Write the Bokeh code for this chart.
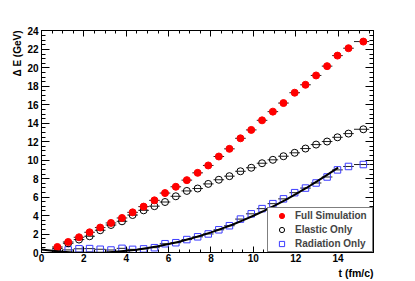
import numpy as np
from bokeh.plotting import figure
from bokeh.models import (Range1d, SingleIntervalTicker, LinearAxis, Title,
                          CustomJSTickFormatter)
from bokeh.embed import file_html
from bokeh.resources import INLINE

# time bins (fm/c)
t = [0.75, 1.26, 1.77, 2.27, 2.77, 3.28, 3.80, 4.30, 4.82, 5.33, 5.83, 6.34,
     6.86, 7.37, 7.87, 8.37, 8.87, 9.39, 9.90, 10.41, 10.92, 11.42, 11.95,
     12.46, 12.96, 13.48, 13.97, 14.49, 15.19]
t_err_lo = [0.25] * 28 + [0.44]
t_err_hi = [0.25] * 28 + [0.28]

full_sim = [0.60, 1.14, 1.65, 2.19, 2.70, 3.20, 3.74, 4.35, 4.97, 5.65, 6.44,
            7.12, 7.84, 8.63, 9.43, 10.40, 11.23, 12.37, 13.28, 14.32, 15.26,
            16.19, 17.31, 18.17, 19.18, 20.19, 21.33, 22.13, 22.85]
elastic = [0.45, 1.00, 1.40, 1.76, 2.41, 2.98, 3.38, 4.06, 4.57, 5.02, 5.47,
           6.09, 6.67, 6.93, 7.43, 7.88, 8.27, 8.80, 9.18, 9.67, 10.04, 10.43,
           10.80, 11.26, 11.69, 12.02, 12.48, 12.88, 13.35]
radiation = [0.05, 0.28, 0.40, 0.42, 0.35, 0.27, 0.45, 0.34, 0.39, 0.52, 0.95,
             1.06, 1.40, 1.70, 2.01, 2.46, 2.90, 3.62, 4.19, 4.75, 5.29, 5.81,
             6.48, 6.98, 7.53, 8.18, 8.95, 9.32, 9.53]

# fit curve
fit_t = [0.0, 0.5, 1.0, 1.5, 2.0, 2.5, 3.0, 3.5, 4.0, 4.5, 5.0, 5.5, 6.0, 6.5,
         7.0, 7.5, 8.0, 8.5, 9.0, 9.5, 10.0, 10.5, 11.0, 11.5, 12.0, 12.5,
         13.0, 13.5, 14.0]
fit_e = [0.32, 0.19, 0.08, 0.01, -0.02, -0.02, 0.01, 0.07, 0.18, 0.31, 0.48,
         0.67, 0.91, 1.17, 1.48, 1.81, 2.18, 2.58, 3.01, 3.48, 3.98, 4.51,
         5.08, 5.68, 6.32, 6.99, 7.70, 8.43, 9.20]

x_ticks_interval = 2
y_ticks_interval = 2

FONT = "Liberation Sans"

p = figure(width=414, height=280, x_range=Range1d(0, 15.67),
           y_range=Range1d(0, 24.05), output_backend="svg",
           toolbar_location=None, min_border_left=41, min_border_right=41,
           min_border_top=30, min_border_bottom=28)
p.xgrid.visible = False
p.ygrid.visible = False
p.outline_line_color = "black"
p.outline_line_width = 1
p.background_fill_color = "white"
p.border_fill_color = "white"

def style_axis(ax, major, minor, interval, labels=True, standoff=3):
    ax.ticker = SingleIntervalTicker(interval=interval, num_minor_ticks=4)
    ax.major_tick_in = major
    ax.major_tick_out = 0
    ax.minor_tick_in = minor
    ax.minor_tick_out = 0
    ax.axis_line_color = "black"
    ax.major_tick_line_color = "black"
    ax.minor_tick_line_color = "black"
    if labels:
        ax.major_label_text_font = FONT
        ax.major_label_text_font_style = "bold"
        ax.major_label_text_font_size = "10px"
        ax.major_label_text_color = "black"
        ax.major_label_standoff = standoff
    else:
        ax.formatter = CustomJSTickFormatter(code="return ''")
        ax.major_label_standoff = 0

style_axis(p.xaxis[0], 6, 3, x_ticks_interval, standoff=1)
style_axis(p.yaxis[0], 8, 4, y_ticks_interval, standoff=3)
top = LinearAxis()
style_axis(top, 6, 3, x_ticks_interval, labels=False)
p.add_layout(top, "above")
right = LinearAxis()
style_axis(right, 8, 4, y_ticks_interval, labels=False)
p.add_layout(right, "right")

tt = np.array(t)
lo = tt - np.array(t_err_lo)
hi = tt + np.array(t_err_hi)

for ys in (full_sim, elastic, radiation):
    p.segment(x0=lo, x1=hi, y0=ys, y1=ys, line_color="#222222", line_width=1)

p.scatter(t, radiation, marker="square", size=6.5, fill_color="white",
          fill_alpha=0.0, line_color="#3c3cff", line_width=1,
          legend_label="Radiation Only")
p.scatter(t, elastic, marker="circle", size=7, fill_color="white",
          fill_alpha=0.0, line_color="black", line_width=1,
          legend_label="Elastic Only")
p.scatter(t, full_sim, marker="circle", size=7, fill_color="#ff0000",
          line_color="#ff0000", legend_label="Full Simulation")
p.line(fit_t, fit_e, line_color="black", line_width=2)

leg = p.legend[0]
leg.items = [leg.items[2], leg.items[1], leg.items[0]]
leg.location = "bottom_right"
leg.margin = 0
leg.padding = 1
leg.spacing = 1
leg.glyph_width = 25
leg.glyph_height = 13
leg.label_height = 13
leg.label_width = 76
leg.label_standoff = 1
leg.label_text_font = FONT
leg.label_text_font_style = "bold"
leg.label_text_font_size = "10px"
leg.border_line_color = "black"
leg.border_line_width = 1
leg.background_fill_color = "white"
leg.background_fill_alpha = 1.0

xt = Title(text="t (fm/c)", align="right", text_font=FONT,
           text_font_style="bold", text_font_size="10.5px",
           text_color="black", standoff=0, offset=0)
p.add_layout(xt, "below")
yt = Title(text="\u0394 E (GeV)", align="right", text_font=FONT,
           text_font_style="bold", text_font_size="10px",
           text_color="black", standoff=4, offset=0)
p.add_layout(yt, "left")

open("out.html", "w").write(file_html(p, INLINE))
